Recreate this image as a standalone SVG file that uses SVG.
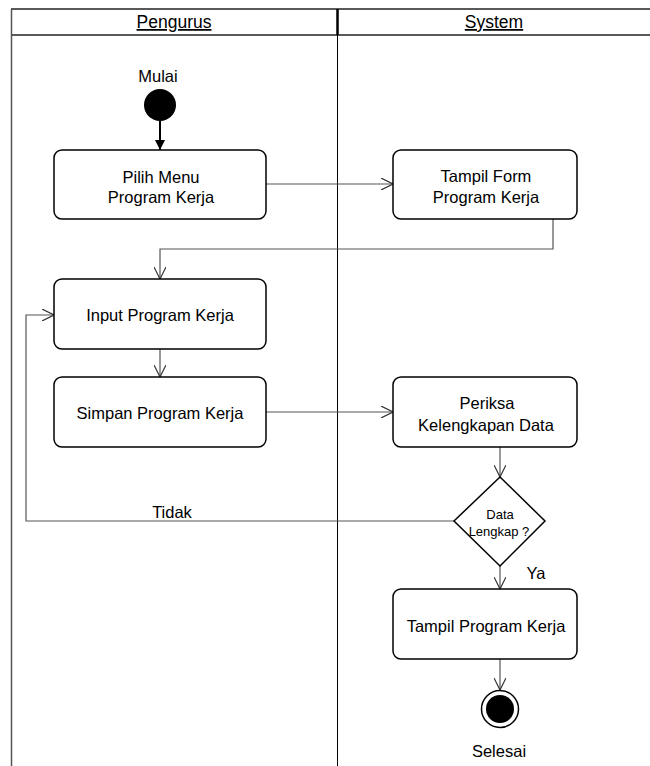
<svg xmlns="http://www.w3.org/2000/svg" width="650" height="766" viewBox="0 0 650 766">
<defs>
<style>
text{font-family:"Liberation Sans",Arial,sans-serif;font-size:16.5px;fill:#000;text-anchor:middle}
text.hdr{font-size:17.5px;text-decoration:underline}
text.sm{font-size:13px}
.box{fill:#fff;stroke:#000;stroke-width:1.5}
.conn{fill:none;stroke:#555;stroke-width:1.2}
</style>
<marker id="open" viewBox="0 0 12 12" refX="12" refY="6" markerWidth="12" markerHeight="12" markerUnits="userSpaceOnUse" orient="auto">
<path d="M0,0 L12,6 L0,12" fill="none" stroke="#333" stroke-width="1.2"/>
</marker>
<marker id="filled" viewBox="0 0 10 10" refX="10" refY="5" markerWidth="10" markerHeight="10" markerUnits="userSpaceOnUse" orient="auto">
<path d="M0,0 L10,5 L0,10 Z" fill="#000"/>
</marker>
</defs>
<rect width="650" height="766" fill="#fff"/>
<g id="swimlanes">
<line x1="11" y1="9" x2="650" y2="9" stroke="#222" stroke-width="1.5"/>
<line x1="11" y1="35" x2="650" y2="35" stroke="#222" stroke-width="1.5"/>
<line x1="11.5" y1="9" x2="11.5" y2="766" stroke="#555" stroke-width="1.5"/>
<line x1="337.5" y1="9" x2="337.5" y2="35" stroke="#000" stroke-width="2.5"/>
<line x1="337.5" y1="35" x2="337.5" y2="766" stroke="#000" stroke-width="1"/>
<text class="hdr" x="174" y="28">Pengurus</text>
<text class="hdr" x="494" y="28">System</text>
</g>
<g id="connectors">
<line x1="160" y1="121" x2="160" y2="150" stroke="#000" stroke-width="2" marker-end="url(#filled)"/>
<line class="conn" x1="266" y1="184" x2="393" y2="184" marker-end="url(#open)"/>
<polyline class="conn" points="553,219 553,249 160,249 160,279" marker-end="url(#open)"/>
<line class="conn" x1="160" y1="349" x2="160" y2="377" marker-end="url(#open)"/>
<line class="conn" x1="266" y1="412" x2="393" y2="412" marker-end="url(#open)"/>
<line class="conn" x1="500" y1="447" x2="500" y2="477" marker-end="url(#open)"/>
<polyline class="conn" points="454,521 26,521 26,315 54,315" marker-end="url(#open)"/>
<line class="conn" x1="500" y1="566" x2="500" y2="589" marker-end="url(#open)"/>
<line class="conn" x1="500" y1="659" x2="500" y2="690" marker-end="url(#open)"/>
<text x="172" y="518">Tidak</text>
<text x="536" y="579">Ya</text>
</g>
<g id="start">
<circle cx="160" cy="105" r="16" fill="#000"/>
<text x="158" y="82">Mulai</text>
</g>
<g id="pilih-menu">
<rect class="box" x="54" y="150" width="212" height="69" rx="8"/>
<text x="161" y="183">Pilih Menu</text>
<text x="161" y="203">Program Kerja</text>
</g>
<g id="tampil-form">
<rect class="box" x="393" y="150" width="184" height="69" rx="8"/>
<text x="486" y="182">Tampil Form</text>
<text x="486" y="203">Program Kerja</text>
</g>
<g id="input-program">
<rect class="box" x="54" y="279" width="212" height="70" rx="8"/>
<text x="160" y="321">Input Program Kerja</text>
</g>
<g id="simpan-program">
<rect class="box" x="54" y="377" width="212" height="70" rx="8"/>
<text x="160" y="419">Simpan Program Kerja</text>
</g>
<g id="periksa">
<rect class="box" x="393" y="377" width="184" height="70" rx="8"/>
<text x="487" y="409">Periksa</text>
<text x="486" y="431">Kelengkapan Data</text>
</g>
<g id="decision">
<polygon points="500,477 545,521 500,566 454,521" fill="#fff" stroke="#000" stroke-width="1.5"/>
<text class="sm" x="500" y="519">Data</text>
<text class="sm" x="499" y="536">Lengkap ?</text>
</g>
<g id="tampil-program">
<rect class="box" x="393" y="589" width="184" height="70" rx="8"/>
<text x="486" y="632">Tampil Program Kerja</text>
</g>
<g id="end">
<circle cx="500" cy="709" r="18.5" fill="#fff" stroke="#000" stroke-width="1.5"/>
<circle cx="500" cy="709" r="14" fill="#000"/>
<text x="499" y="757">Selesai</text>
</g>
</svg>
